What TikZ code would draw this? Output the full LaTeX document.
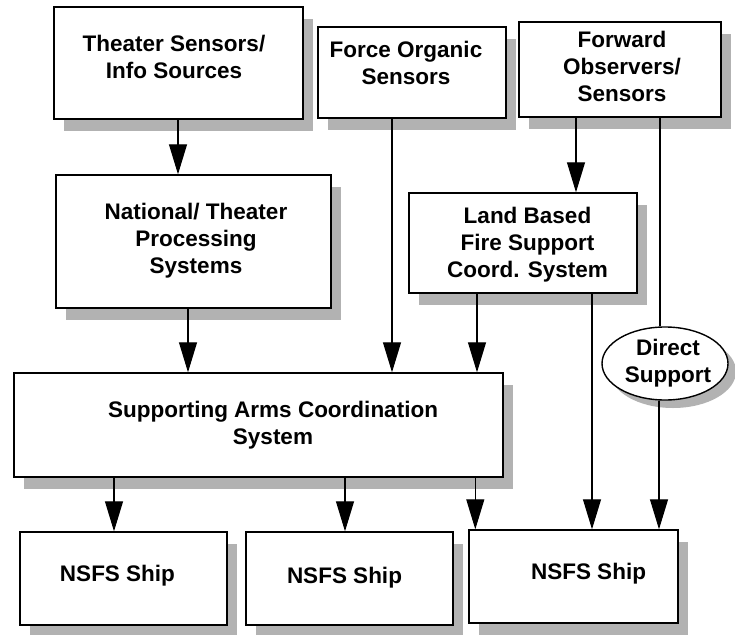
\documentclass[tikz,border=0pt]{standalone}
\usepackage{fontspec}
\setmainfont{Liberation Sans}
\usetikzlibrary{arrows.meta,shapes.geometric,shadows}

\tikzset{
  shaded/.style={drop shadow={shadow xshift=10pt,shadow yshift=-12pt,fill=gray!60,opacity=1}},
  box/.style={draw,line width=1.4pt,fill=white,rectangle,inner sep=0pt,shaded},
  oval/.style={draw,line width=1.4pt,fill=white,ellipse,inner sep=0pt,
    drop shadow={shadow xshift=8pt,shadow yshift=-8pt,fill=gray!60,opacity=1}},
  lbl/.style={align=center,inner sep=0pt,font=\bfseries\fontsize{22.5}{27}\selectfont},
  link/.style={line width=1.1pt},
  arr/.style={link,-{Triangle[width=18pt,length=30pt]}}
}

\begin{document}
\begin{tikzpicture}[x=1pt,y=-1pt]
  \fill[white] (0,0) rectangle (735,634);
  \useasboundingbox (0,0) rectangle (735,634);

  % boxes
  \node[box,minimum width=249pt,minimum height=112pt] (theater) at (178.5,63) {};
  \node[box,minimum width=188pt,minimum height=91pt]  (force)   at (412,72.5) {};
  \node[box,minimum width=202pt,minimum height=95pt]  (forward) at (620,69.5) {};
  \node[box,minimum width=275pt,minimum height=133pt] (national) at (193.5,241.5) {};
  \node[box,minimum width=228pt,minimum height=100pt] (land)    at (523,243) {};
  \node[oval,minimum width=126pt,minimum height=73pt] (direct)  at (665,363.5) {};
  \node[box,minimum width=489pt,minimum height=104pt] (sac)     at (258.5,425) {};
  \node[box,minimum width=207pt,minimum height=93pt]  (ship1)   at (123.5,578.5) {};
  \node[box,minimum width=207pt,minimum height=93pt]  (ship2)   at (349.5,578.5) {};
  \node[box,minimum width=209pt,minimum height=93pt]  (ship3)   at (573.5,576.5) {};

  % labels
  \node[lbl] (theaterT)  at (174,57)    {Theater Sensors/\\Info Sources};
  \node[lbl] (forceT)    at (406,63)    {Force Organic\\Sensors};
  \node[lbl] (forwardT)  at (622,66)    {Forward\\Observers/\\Sensors};
  \node[lbl] (nationalT) at (196,241)   {National/ Theater\\Processing\\Systems};
  \node[lbl] (landT)     at (527.5,245) {Land Based\\Fire Support\\Coord. System};
  \node[lbl] (directT)   at (668,363)   {Direct\\Support};
  \node[lbl] (sacT)      at (273,425)   {Supporting Arms Coordination\\System};
  \node[lbl] (ship1T)    at (117.5,576) {NSFS Ship};
  \node[lbl] (ship2T)    at (344.5,578) {NSFS Ship};
  \node[lbl] (ship3T)    at (588.5,574) {NSFS Ship};

  % connectors
  \draw[arr] ([xshift=-0.5pt]theater.south) -- ([xshift=-0.5pt]theater.south |- national.north);
  \draw[arr] ([xshift=-20pt]force.south) -- ([xshift=-20pt]force.south |- sac.north);
  \draw[arr] ([xshift=-44pt]forward.south) -- ([xshift=-44pt]forward.south |- land.north);
  \draw[link] ([xshift=-5pt]forward.south -| direct.north) -- ([xshift=-5pt]direct.north);
  \draw[arr] ([xshift=-5.5pt]national.south) -- ([xshift=-5.5pt]national.south |- sac.north);
  \draw[arr] ([xshift=-46pt]land.south) -- ([xshift=-46pt]land.south |- sac.north);
  \draw[arr] ([xshift=69pt]land.south) -- ([xshift=69pt]land.south |- ship3.north);
  \draw[arr] ([xshift=-6pt]direct.south) -- ([xshift=-6pt]direct.south |- ship3.north);
  \draw[arr] ([xshift=-9.5pt]ship1.north |- sac.south) -- ([xshift=-9.5pt]ship1.north);
  \draw[arr] ([xshift=-4.5pt]ship2.north |- sac.south) -- ([xshift=-4.5pt]ship2.north);
  \draw[arr] ([xshift=7pt]ship3.north west |- sac.south) -- ([xshift=7pt]ship3.north west);
\end{tikzpicture}
\end{document}
